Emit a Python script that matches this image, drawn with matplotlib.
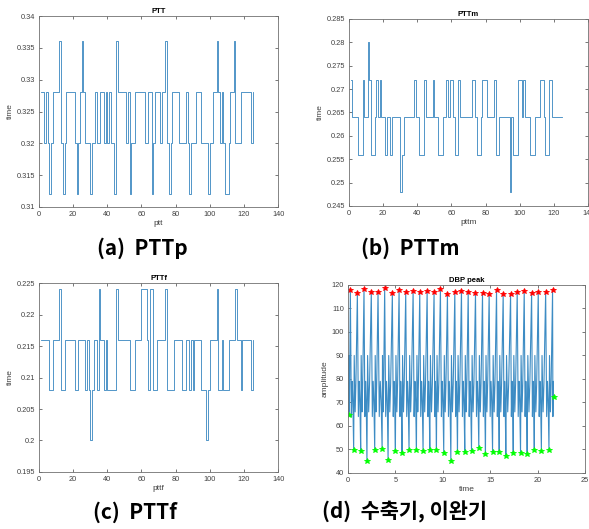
import matplotlib
matplotlib.use("Agg")
import matplotlib.pyplot as plt
import numpy as np

plt.rcParams["font.family"] = ["Liberation Sans", "DejaVu Sans"]
plt.rcParams["path.simplify"] = False

# PTT values (ms), one per beat
ptt_ms = [328, 328, 320, 328, 320, 312, 320, 328, 328, 328,
          328, 336, 320, 312, 320, 328, 328, 328, 328, 328,
          320, 312, 320, 328, 336, 328, 320, 320, 320, 312,
          320, 320, 328, 320, 320, 328, 328, 320, 328, 320,
          328, 320, 320, 312, 336, 328, 328, 328, 328, 328,
          320, 328, 312, 320, 320, 328, 328, 328, 328, 328,
          328, 320, 320, 328, 328, 312, 320, 328, 328, 328,
          320, 328, 328, 336, 320, 312, 320, 328, 328, 328,
          328, 320, 320, 320, 320, 328, 320, 312, 320, 320,
          320, 328, 328, 328, 320, 320, 320, 320, 312, 320,
          320, 328, 328, 336, 328, 320, 328, 320, 312, 312,
          320, 328, 328, 336, 320, 320, 320, 328, 328, 328,
          328, 328, 328, 320, 328]

pttm_ms = [272, 264, 264, 264, 256, 256, 256, 272, 264, 264,
           280, 272, 256, 256, 264, 272, 264, 272, 264, 264,
           256, 264, 264, 256, 264, 264, 264, 264, 264, 248,
           256, 264, 264, 264, 264, 264, 264, 272, 264, 264,
           256, 256, 256, 272, 264, 264, 264, 264, 272, 264,
           264, 256, 256, 256, 264, 264, 272, 264, 272, 272,
           264, 256, 256, 272, 264, 264, 264, 264, 264, 264,
           264, 272, 272, 264, 256, 256, 264, 272, 272, 272,
           264, 264, 264, 264, 272, 256, 256, 264, 264, 264,
           264, 264, 264, 248, 264, 256, 256, 256, 272, 272,
           264, 272, 264, 264, 264, 256, 256, 256, 264, 264,
           264, 272, 272, 264, 256, 256, 272, 272, 264, 264,
           264, 264, 264, 264, 264]

pttf_ms = [216, 216, 216, 216, 216, 208, 208, 216, 216, 216,
           216, 224, 208, 208, 216, 216, 216, 216, 216, 216,
           208, 208, 216, 216, 216, 216, 208, 216, 208, 200,
           208, 216, 216, 208, 224, 216, 216, 208, 216, 208,
           208, 208, 208, 208, 224, 216, 216, 216, 216, 216,
           216, 216, 208, 208, 208, 216, 216, 216, 216, 224,
           224, 224, 216, 208, 224, 224, 208, 208, 216, 216,
           216, 216, 216, 224, 208, 208, 208, 208, 216, 216,
           216, 216, 216, 208, 208, 216, 216, 208, 216, 208,
           216, 216, 216, 216, 208, 208, 208, 200, 208, 216,
           216, 216, 216, 224, 208, 208, 216, 208, 208, 208,
           216, 216, 216, 216, 224, 216, 216, 208, 216, 216,
           216, 216, 216, 208, 216]

# DBP: systolic peaks (red) and diastolic troughs (green)
peak_t = [0.25, 0.99, 1.69, 2.46, 3.17, 3.87, 4.68, 5.39, 6.09, 6.87,
          7.57, 8.35, 9.08, 9.75, 10.49, 11.27, 11.97, 12.68, 13.45, 14.19,
          14.89, 15.67, 16.37, 17.15, 17.85, 18.59, 19.37, 20.07, 20.85, 21.58]
peak_v = [117.9, 116.7, 118.3, 117.2, 117.2, 118.6, 116.6, 117.9, 116.9, 117.5,
          117.0, 117.5, 116.9, 118.2, 116.3, 117.0, 117.5, 117.2, 116.6, 116.6,
          116.2, 117.7, 116.0, 116.3, 117.0, 117.3, 116.7, 117.2, 117.0, 117.9]
trough_t = [0.07, 0.6, 1.34, 2.0, 2.82, 3.6, 4.23, 5.0, 5.7, 6.44,
            7.22, 7.92, 8.63, 9.33, 10.1, 10.85, 11.55, 12.32, 13.03, 13.8,
            14.5, 15.25, 15.95, 16.65, 17.43, 18.2, 18.9, 19.65, 20.4, 21.2, 21.7]
trough_v = [64.5, 49.6, 49.2, 45.0, 49.6, 50.2, 45.6, 49.5, 48.5, 49.9,
            49.9, 49.2, 49.6, 49.6, 48.5, 45.2, 48.9, 49.0, 49.2, 50.6,
            47.9, 48.9, 48.8, 47.1, 48.5, 48.5, 48.2, 49.6, 49.5, 49.9, 72.5]

# shape of one beat between the marked points (position within half-beat, amplitude)
rise_shape = [(0.15, 90), (0.4, 66), (0.6, 78)]
fall_shape = [(0.3, 64), (0.55, 79), (0.75, 71)]

LINE = "#3585bf"
GRAY = "#404040"


def build_wave():
    t, v = [], []
    for i in range(len(peak_t)):
        t0, v0 = trough_t[i], trough_v[i]
        t1, v1 = peak_t[i], peak_v[i]
        t2 = trough_t[i + 1]
        t.append(t0)
        v.append(v0)
        for f, a in rise_shape:
            t.append(t0 + f * (t1 - t0))
            v.append(a)
        t.append(t1)
        v.append(v1)
        for f, a in fall_shape:
            t.append(t1 + f * (t2 - t1))
            v.append(a)
    t.append(trough_t[-1])
    v.append(trough_v[-1])
    return t, v


def style(ax, title, xlabel, ylabel):
    ax.set_title(title, fontsize=5.5, fontweight="bold", pad=2)
    ax.set_xlabel(xlabel, fontsize=6, color=GRAY, labelpad=1)
    ax.set_ylabel(ylabel, fontsize=6, color=GRAY, labelpad=2)
    ax.tick_params(direction="in", length=2, width=0.5, labelsize=5.3,
                   colors=GRAY, top=True, right=True, pad=3)
    for s in ax.spines.values():
        s.set_linewidth(0.6)
        s.set_color("#707070")


def stairs_panel(rect, vals, title, xlabel, ylim):
    ax = fig.add_axes(rect)
    y = np.array(vals) / 1000.0
    x = np.arange(1, len(y) + 1)
    ax.step(x, y, where="post", color=LINE, lw=0.6)
    ax.set_xlim(0, 140)
    ax.set_ylim(*ylim)
    ax.set_xticks(np.arange(0, 141, 20))
    ax.set_yticks(np.arange(ylim[0], ylim[1] + 1e-9, 0.005))
    ax.set_yticklabels(["%g" % round(v, 3) for v in ax.get_yticks()])
    style(ax, title, xlabel, "time")
    return ax


fig = plt.figure(figsize=(5.89, 5.29), dpi=100)

stairs_panel([0.0662, 0.6087, 0.406, 0.361], ptt_ms, "PTT", "ptt", (0.31, 0.34))
stairs_panel([0.5925, 0.6106, 0.406, 0.3535], pttm_ms, "PTTm", "pttm", (0.245, 0.285))
stairs_panel([0.0662, 0.1078, 0.406, 0.357], pttf_ms, "PTTf", "pttf", (0.195, 0.225))

ax = fig.add_axes([0.5908, 0.1059, 0.4024, 0.3554])
wt, wv = build_wave()
ax.plot(wt, wv, color="#3d8cc4", lw=0.8)
ax.plot(peak_t, peak_v, "*", color="red", ms=4, mew=0.6)
ax.plot(trough_t, trough_v, "*", color="#00ff00", ms=4, mew=0.6)
ax.set_xlim(0, 25)
ax.set_ylim(40, 120)
ax.set_xticks(np.arange(0, 26, 5))
ax.set_yticks(np.arange(40, 121, 10))
style(ax, "DBP peak", "time", "amplitude")

cap = dict(fontsize=15, fontweight="bold", ha="center", va="center",
           family=["Noto Sans CJK KR", "DejaVu Sans"])
fig.text(0.241, 0.531, "(a)  PTTp", **cap)
fig.text(0.696, 0.531, "(b)  PTTm", **cap)
fig.text(0.229, 0.032, "(c)  PTTf", **cap)
fig.text(0.686, 0.032, "(d)  수축기, 이완기", **cap)

fig.savefig("out.png", dpi=100)
